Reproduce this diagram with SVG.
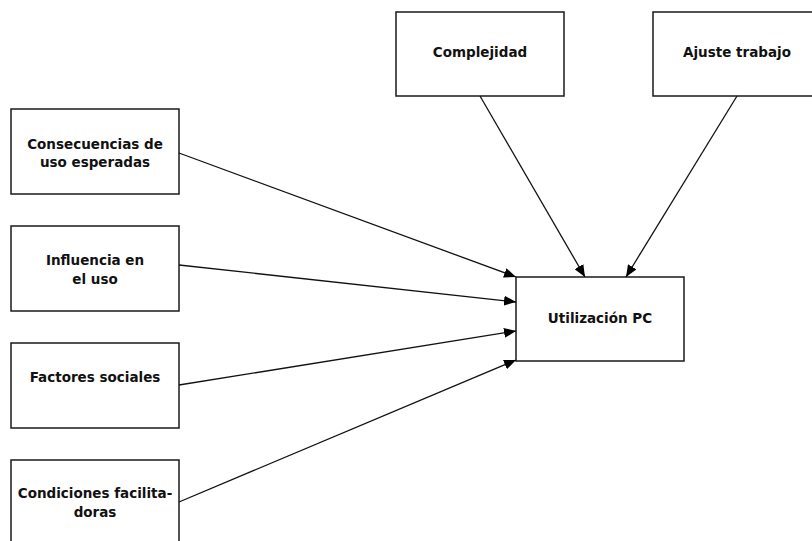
<svg xmlns="http://www.w3.org/2000/svg" width="812" height="541" viewBox="0 0 812 541">
  <style>
    .box { fill: #ffffff; stroke: #1a1a1a; stroke-width: 1.5; }
    .lbl { font-family: "DejaVu Sans", Lato, sans-serif; font-weight: bold; font-size: 13.5px; fill: #111111; text-anchor: middle; }
    .conn { stroke: #111111; stroke-width: 1.3; fill: none; marker-end: url(#arrow); }
  </style>
  <defs>
    <marker id="arrow" viewBox="0 0 12 10" refX="12" refY="5" markerWidth="12" markerHeight="10" markerUnits="userSpaceOnUse" orient="auto">
      <path d="M0,0 L12,5 L0,10 Z" fill="#000000"/>
    </marker>
  </defs>
  <rect width="812" height="541" fill="#ffffff"/>

  <g id="consecuencias">
    <rect class="box" x="11" y="109" width="168" height="85"/>
    <text class="lbl" x="95" y="149">Consecuencias de</text>
    <text class="lbl" x="95" y="167">uso esperadas</text>
  </g>
  <g id="influencia">
    <rect class="box" x="11" y="226" width="168" height="85"/>
    <text class="lbl" x="95" y="265">Influencia en</text>
    <text class="lbl" x="95" y="284">el uso</text>
  </g>
  <g id="factores">
    <rect class="box" x="11" y="343" width="168" height="85"/>
    <text class="lbl" x="95" y="382">Factores sociales</text>
  </g>
  <g id="condiciones">
    <rect class="box" x="11" y="460" width="168" height="85"/>
    <text class="lbl" x="95" y="498">Condiciones facilita-</text>
    <text class="lbl" x="95" y="517">doras</text>
  </g>
  <g id="complejidad">
    <rect class="box" x="396" y="12" width="168" height="84"/>
    <text class="lbl" x="480" y="57">Complejidad</text>
  </g>
  <g id="ajuste">
    <rect class="box" x="653" y="12" width="168" height="84"/>
    <text class="lbl" x="737" y="57">Ajuste trabajo</text>
  </g>
  <g id="utilizacion">
    <rect class="box" x="516" y="277" width="168" height="84"/>
    <text class="lbl" x="600" y="323">Utilización PC</text>
  </g>

  <g id="connectors">
    <line class="conn" x1="179" y1="153" x2="516" y2="277"/>
    <line class="conn" x1="179" y1="265" x2="516" y2="302"/>
    <line class="conn" x1="179" y1="385" x2="516" y2="331"/>
    <line class="conn" x1="179" y1="502" x2="516" y2="360"/>
    <line class="conn" x1="480" y1="96" x2="585" y2="277"/>
    <line class="conn" x1="737" y1="96" x2="626" y2="277"/>
  </g>
</svg>
